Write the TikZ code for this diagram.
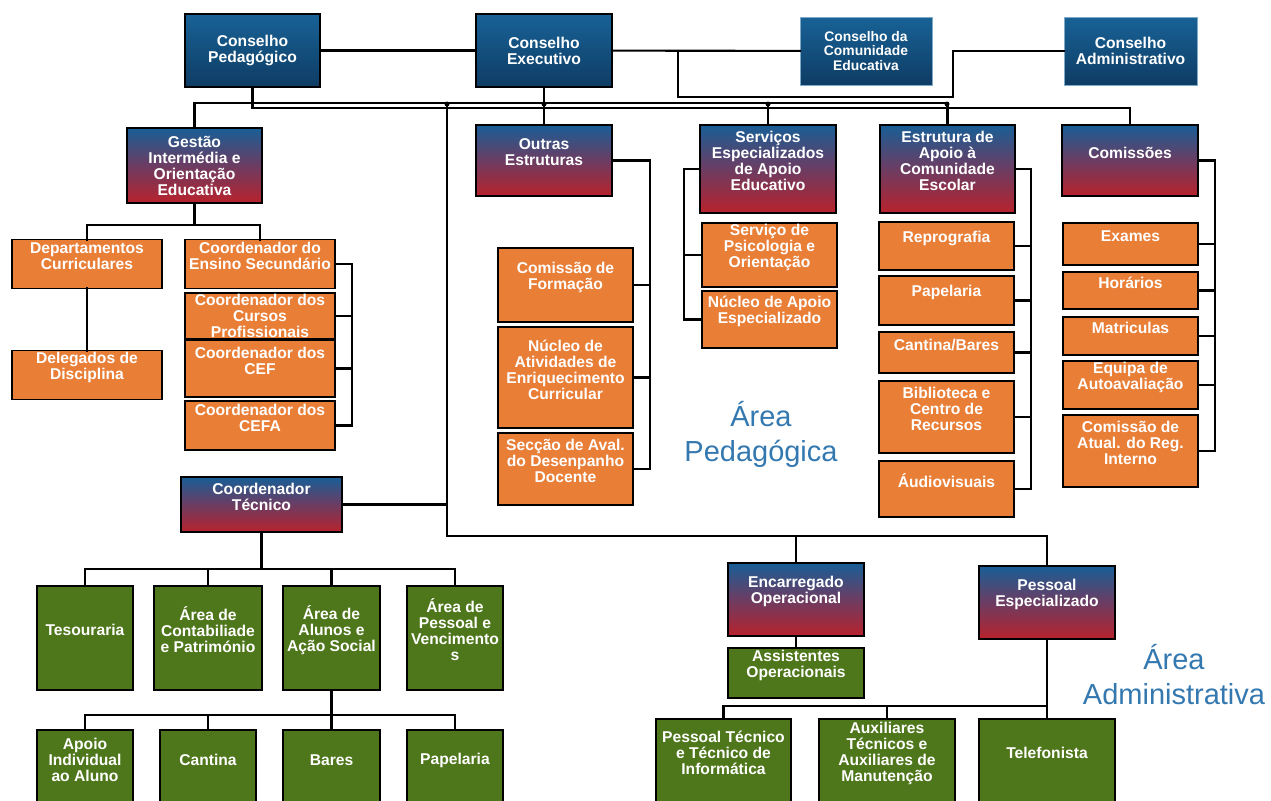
\documentclass[tikz,border=0pt]{standalone}
\usepackage{fontspec}
\setmainfont{Liberation Sans}
\usepackage{tikz}

\definecolor{deepTop}{RGB}{24,98,150}
\definecolor{deepBot}{RGB}{14,60,100}
\definecolor{mixTop}{RGB}{24,94,150}
\definecolor{mixMid}{RGB}{108,60,98}
\definecolor{mixBot}{RGB}{184,34,44}
\definecolor{orFill}{RGB}{233,126,55}
\definecolor{grFill}{RGB}{78,118,26}
\definecolor{areaBlue}{RGB}{52,120,176}

\newcommand{\boxfont}{\bfseries\fontsize{8.9}{9.1}\selectfont}
\newcommand{\smallboxfont}{\bfseries\fontsize{7.9}{8.3}\selectfont}

\begin{document}
\begin{tikzpicture}[x=0.2mm, y=-0.2mm,
  base/.style={rectangle, draw=black, line width=1.1pt, text=white, font=\boxfont,
    align=center, inner sep=1pt, outer sep=0pt},
  sz/.style 2 args={minimum width=#1*0.2mm, minimum height=#2*0.2mm},
  topbox/.style={base, top color=deepTop, bottom color=deepBot},
  mixbox/.style={base, top color=mixTop, bottom color=mixBot, middle color=mixMid},
  orbox/.style={base, fill=orFill},
  grbox/.style={base, fill=grFill},
  liftlbl/.style={text=white, font=\boxfont, align=center, inner sep=1pt, yshift=1.6mm},
  lift/.style={label={[liftlbl]center:#1}},
  link/.style={line width=1.2pt, line cap=rect},
  area/.style={text=areaBlue, font=\fontsize{16.5}{19.8}\selectfont, align=center}]
  \useasboundingbox (0,0) rectangle (1271,800);
  \clip (0,0) rectangle (1271,800);
  % Councils
  \node[topbox, sz={135}{73}] (cp) at (252.5,50.5) {Conselho\\Pedagógico};
  \node[topbox, sz={136}{73}] (ce) at (544,50.5) {Conselho\\Executivo};
  \node[topbox, sz={132}{68}, draw=deepTop!55!white, line width=0.5pt, font=\smallboxfont] (cce) at (866,51) {Conselho da\\Comunidade\\Educativa};
  \node[topbox, sz={133}{68}, draw=deepTop!55!white, line width=0.5pt] (ca) at (1130.5,51) {Conselho\\Administrativo};
  % Second level
  \node[mixbox, sz={135}{75}] (gio) at (194.5,165.5) {Gestão\\Intermédia e\\Orientação\\Educativa};
  \node[mixbox, sz={136}{71}, lift={Outras\\Estruturas}] (oe) at (544,160.5) {};
  \node[mixbox, sz={136}{88}, lift={Serviços\\Especializados\\de Apoio\\Educativo}] (sea) at (768,169) {};
  \node[mixbox, sz={135}{88}, lift={Estrutura de\\Apoio à\\Comunidade\\Escolar}] (eac) at (947.5,169) {};
  \node[mixbox, sz={136}{71}, lift={Comissões}] (com) at (1130,160.5) {};
  % Gestao intermedia
  \node[orbox, sz={150}{49}, lift={Departamentos\\Curriculares}] (dc) at (87,264) {};
  \node[orbox, sz={150}{49}, lift={Delegados de\\Disciplina}] (dd) at (87,375) {};
  \node[orbox, sz={150}{49}, lift={Coordenador do\\Ensino Secundário}] (ces) at (260,264) {};
  \node[orbox, sz={150}{46}, inner ysep=0pt] (ccp) at (260,316) {Coordenador dos\\Cursos\\Profissionais};
  \node[orbox, sz={150}{57}, lift={Coordenador dos\\CEF}] (cef) at (260,368.5) {};
  \node[orbox, sz={150}{49}, lift={Coordenador dos\\CEFA}] (cefa) at (260,425.5) {};
  % Outras estruturas
  \node[orbox, sz={135}{74}, lift={Comissão de\\Formação}] (cf) at (565.5,285) {};
  \node[orbox, sz={135}{101}, lift={Núcleo de\\Atividades de\\Enriquecimento\\Curricular}] (nae) at (565.5,377.5) {};
  \node[orbox, sz={135}{72}, lift={Secção de Aval.\\do Desenpanho\\Docente}] (sad) at (565.5,469) {};
  % Servicos especializados
  \node[orbox, sz={135}{64}, lift={Serviço de\\Psicologia e\\Orientação}] (spo) at (769.5,255) {};
  \node[orbox, sz={135}{57}, lift={Núcleo de Apoio\\Especializado}] (nap) at (769.5,319.5) {};
  % Estrutura de apoio
  \node[orbox, sz={135}{48}, lift={Reprografia}] (rep) at (946.5,246) {};
  \node[orbox, sz={135}{49}, lift={Papelaria}] (pap) at (946.5,300.5) {};
  \node[orbox, sz={135}{41}, lift={Cantina/Bares}] (cb) at (946.5,352.5) {};
  \node[orbox, sz={135}{72}, lift={Biblioteca e\\Centro de\\Recursos}] (bcr) at (946.5,417) {};
  \node[orbox, sz={135}{56}, lift={Áudiovisuais}] (aud) at (946.5,489) {};
  % Comissoes
  \node[orbox, sz={135}{42}, lift={Exames}] (exa) at (1130.5,244) {};
  \node[orbox, sz={135}{37}, lift={Horários}] (hor) at (1130.5,290.5) {};
  \node[orbox, sz={135}{38}, lift={Matriculas}] (mat) at (1130.5,336) {};
  \node[orbox, sz={135}{48}, lift={Equipa de\\Autoavaliação}] (eqa) at (1130.5,385) {};
  \node[orbox, sz={135}{72}, lift={Comissão de\\Atual. do Reg.\\Interno}] (car) at (1130.5,451) {};
  % Coordenador tecnico
  \node[mixbox, sz={161}{55}, lift={Coordenador\\Técnico}] (ct) at (261.5,504.5) {};
  \node[grbox, sz={96}{104}, lift={Tesouraria}] (tes) at (85,638) {};
  \node[grbox, sz={108}{104}, lift={Área de\\Contabiliade\\e Património}] (acp) at (208,638) {};
  \node[grbox, sz={97}{104}, lift={Área de\\Alunos e\\Ação Social}] (aas) at (331.5,638) {};
  \node[grbox, sz={96}{104}, lift={Área de\\Pessoal e\\Vencimento\\s}] (apv) at (455,638) {};
  \node[grbox, sz={96}{76}, lift={Apoio\\Individual\\ao Aluno}] (aia) at (85,768) {};
  \node[grbox, sz={96}{76}, lift={Cantina}] (can) at (208,768) {};
  \node[grbox, sz={97}{76}, lift={Bares}] (bar) at (331.5,768) {};
  \node[grbox, sz={96}{76}, lift={Papelaria}] (pap2) at (455,768) {};
  % Area administrativa
  \node[mixbox, sz={136}{73}, lift={Encarregado\\Operacional}] (eop) at (796,599.5) {};
  \node[grbox, sz={136}{50}, lift={Assistentes\\Operacionais}] (aop) at (796,673) {};
  \node[mixbox, sz={136}{73}, lift={Pessoal\\Especializado}] (pes) at (1047,602.5) {};
  \node[grbox, sz={135}{84}, lift={Pessoal Técnico\\e Técnico de\\Informática}] (pti) at (723.5,761) {};
  \node[grbox, sz={136}{84}, lift={Auxiliares\\Técnicos e\\Auxiliares de\\Manutenção}] (atm) at (887,761) {};
  \node[grbox, sz={136}{84}, lift={Telefonista}] (tel) at (1047,761) {};
  % Area labels
  \node[area] (apLbl) at (761,434.5) {Área\\Pedagógica};
  \node[area] (aaLbl) at (1174,674.5) {Área\\Administrativa};
  % Top connectors
  \coordinate (caTap) at (678,51);
  \coordinate (busA) at (447,103);
  \coordinate (busB) at (447,108);
  \coordinate (admBus) at (447,536);
  \draw[link] (cp) -- (ce);
  \draw[link] (ce) -- (cce);
  \draw[link] (caTap) -- (678,97) -| (953,51) -- (ca.west);
  \draw[link] (gio.north) |- (busA) -| (eac.north);
  \draw[link] (cp.south) |- (busB) -| (com.north);
  \draw[link] (ce) -- (oe);
  \draw[link] (sea.north) -- (sea.north |- busA);
  \draw[link] (busA) -- (admBus) -| (pes.north);
  \draw[link] (eop.north) -- (eop.north |- admBus);
  \draw[link] (ct.east) -- (ct.east -| busA);
  \foreach \px in {447,544,768,947}
    \fill (\px,104) circle (0.5mm);
  % Gestao branches
  \coordinate (gBar) at (194.5,225);
  \draw[link] (gio) -- (gBar);
  \draw[link] (dc.north) |- (gBar) -| (ces.north);
  \draw[link] (dc) -- (dd);
  \draw[link] (ces.east) -- ++(17,0) |- (cefa.east);
  \foreach \n in {ccp,cef}
    \draw[link] (\n.east) -- ++(17,0);
  % Brackets
  \draw[link] (oe.east) -- ++(38,0) |- (sad.east);
  \foreach \n in {cf,nae}
    \draw[link] (\n.east) -- ++(17,0);
  \draw[link] (sea.west) -- ++(-16,0) |- (nap.west);
  \draw[link] (spo.west) -- ++(-18,0);
  \draw[link] (eac.east) -- ++(16,0) |- (aud.east);
  \foreach \n in {rep,pap,cb,bcr}
    \draw[link] (\n.east) -- ++(17,0);
  \draw[link] (com.east) -- ++(17,0) |- (car.east);
  \foreach \n in {exa,hor,mat,eqa}
    \draw[link] (\n.east) -- ++(17,0);
  % Coordenador tecnico branches
  \coordinate (tBar) at (261.5,569);
  \coordinate (sBar) at (331.5,715);
  \draw[link] (ct) -- (tBar);
  \draw[link] (tes.north) |- (tBar) -| (apv.north);
  \foreach \n in {acp,aas}
    \draw[link] (\n.north) -- (\n.north |- tBar);
  \draw[link] (aas) -- (bar);
  \draw[link] (aia.north) |- (sBar) -| (pap2.north);
  \draw[link] (can.north) -- (can.north |- sBar);
  % Administrative branches
  \coordinate (pBar) at (1047,706);
  \draw[link] (eop) -- (aop);
  \draw[link] (pes) -- (tel);
  \draw[link] (pti.north) |- (pBar);
  \draw[link] (atm.north) -- (atm.north |- pBar);
\end{tikzpicture}
\end{document}
